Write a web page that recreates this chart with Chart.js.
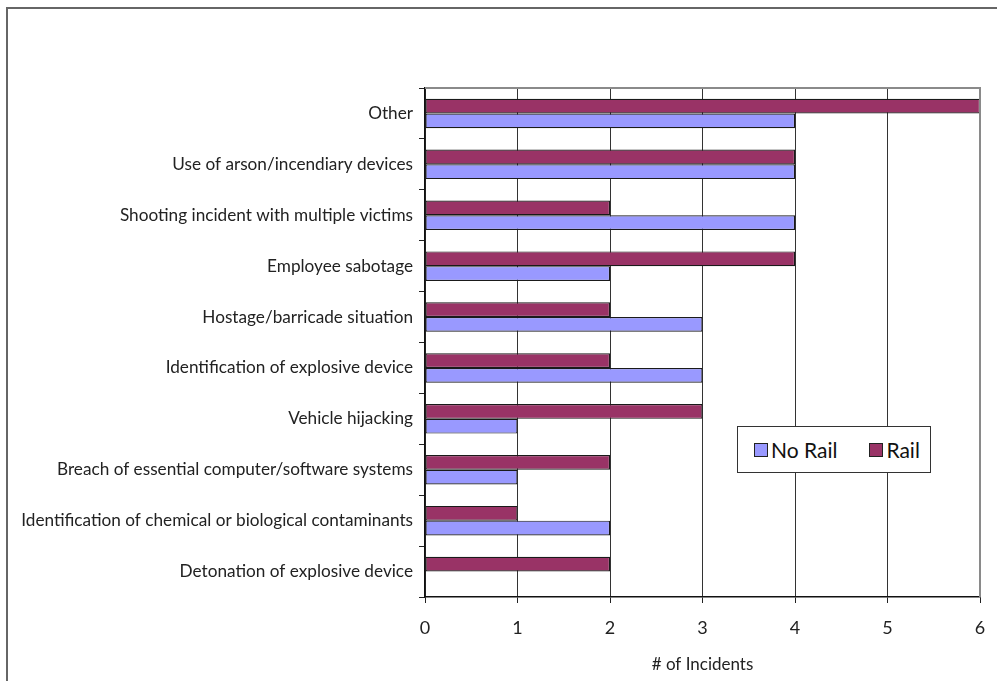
<!DOCTYPE html>
<html>
<head>
<meta charset="utf-8">
<script src="https://cdn.jsdelivr.net/npm/chart.js@4.4.1/dist/chart.umd.min.js"></script>
<style>
    html, body { margin: 0; padding: 0; background: #fff; overflow: hidden; }
    body { width: 997px; height: 681px; position: relative; font-family: Lato, sans-serif; }
    .frame { position: absolute; left: 6px; top: 7px; width: 1100px; height: 800px; border-left: 2px solid #666; border-top: 2px solid #666; }
    #wrap { position: absolute; left: 0; top: 0; width: 997px; height: 681px; }
    .legend { position: absolute; left: 737px; top: 426px; width: 192px; height: 45px; border: 1px solid #333; background: #fff;
              display: flex; align-items: center; font-size: 21px; color: #111; }
    .legend span.sw { display: inline-block; width: 12px; height: 12px; border: 1px solid #222; margin-right: 3px; }
    .legend .item { display: flex; align-items: center; }
</style>
</head>
<body>
<div class="frame"></div>
<div id="wrap"><canvas id="chart" width="997" height="681"></canvas></div>
<div class="legend">
    <div class="item" style="margin-left:16px;"><span class="sw" style="background:#9999ff;"></span>No Rail</div>
    <div class="item" style="margin-left:32px;"><span class="sw" style="background:#993366;"></span>Rail</div>
</div>
<script>
// Incident types, top to bottom
const categories = [
    'Other',
    'Use of arson/incendiary devices',
    'Shooting incident with multiple victims',
    'Employee sabotage',
    'Hostage/barricade situation',
    'Identification of explosive device',
    'Vehicle hijacking',
    'Breach of essential computer/software systems',
    'Identification of chemical or biological contaminants',
    'Detonation of explosive device'
];
const railCounts   = [6, 4, 2, 4, 2, 2, 3, 2, 1, 2];
const noRailCounts = [4, 4, 4, 2, 3, 3, 1, 1, 2, 0];
const xTicks = [0, 1, 2, 3, 4, 5, 6];

// grey frame on top and right of the plot area
const plotFrame = {
    id: 'plotFrame',
    afterDraw(chart) {
        const { ctx, chartArea: a } = chart;
        ctx.save();
        ctx.strokeStyle = '#8a8a8a';
        ctx.lineWidth = 2;
        ctx.beginPath();
        ctx.moveTo(a.left, a.top);
        ctx.lineTo(a.right, a.top);
        ctx.lineTo(a.right, a.bottom);
        ctx.stroke();
        ctx.restore();
    }
};

new Chart(document.getElementById('chart'), {
    type: 'bar',
    data: {
        labels: categories,
        datasets: [
            { label: 'Rail', data: railCounts, backgroundColor: '#993366' },
            { label: 'No Rail', data: noRailCounts, backgroundColor: '#9999ff' }
        ]
    },
    options: {
        indexAxis: 'y',
        responsive: false,
        animation: false,
        layout: { padding: { left: 0, right: 17, top: 88, bottom: 0 } },
        datasets: { bar: { categoryPercentage: 0.58, barPercentage: 1.0, borderColor: '#1a1a1a', borderWidth: 1.2, borderSkipped: false } },
        plugins: {
            legend: { display: false },
            tooltip: { enabled: false }
        },
        scales: {
            x: {
                min: 0, max: 6,
                afterBuildTicks: s => { s.ticks = xTicks.map(v => ({ value: v })); },
                // fixed height; tick padding shouldn't widen the right margin
                afterFit: s => { s.height = 84; s.paddingLeft = 0; s.paddingRight = 0; },
                grid: { color: '#333', lineWidth: 1, tickLength: 6, tickColor: '#222' },
                border: { color: '#111', width: 1.5 },
                ticks: { color: '#222', font: { family: 'Lato', size: 18 }, padding: 14 },
                title: { display: true, text: '# of Incidents', color: '#222', font: { family: 'Lato', size: 17 }, padding: { top: 2, bottom: 6 } }
            },
            y: {
                afterFit: s => { s.width = 425; },
                grid: { drawOnChartArea: false, offset: true, tickLength: 6, tickColor: '#222' },
                border: { color: '#111', width: 1.5 },
                ticks: { color: '#222', font: { family: 'Lato', size: 17.2 }, padding: 6 }
            }
        }
    },
    plugins: [plotFrame]
});
</script>
</body>
</html>
